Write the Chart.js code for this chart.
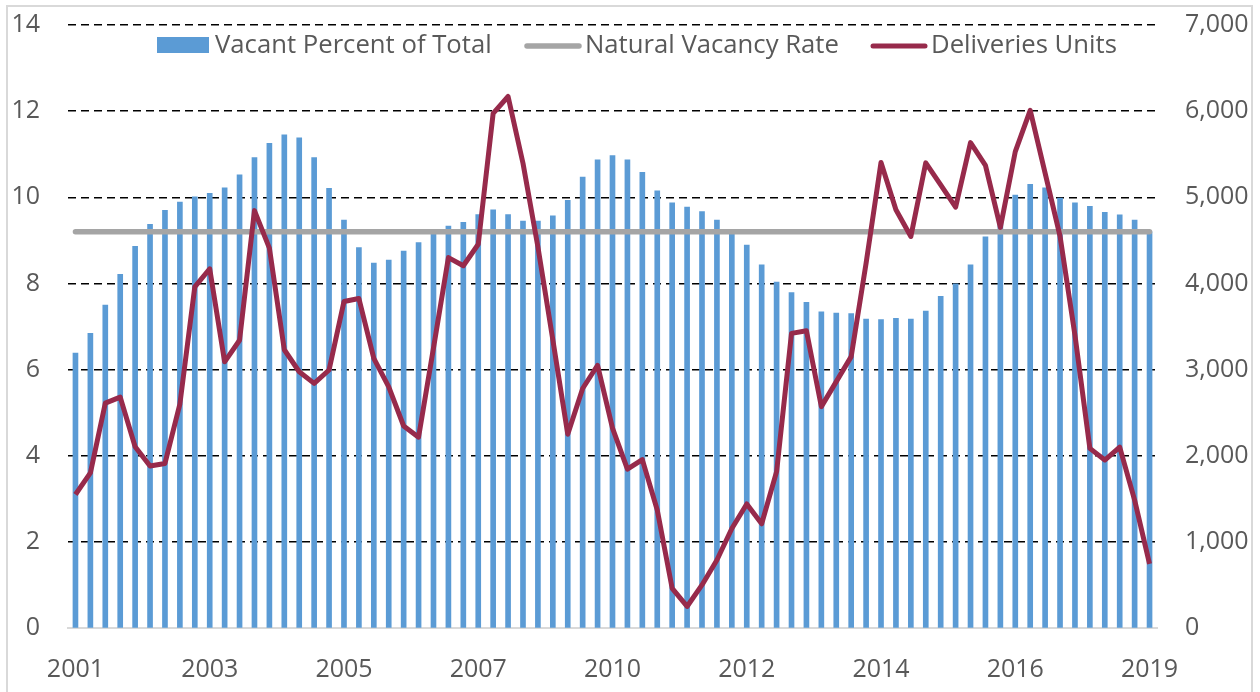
<!DOCTYPE html>
<html lang="en">
<head>
  <meta charset="UTF-8" />
  <title>Vacancy and Deliveries</title>
  <script src="https://cdn.jsdelivr.net/npm/chart.js"></script>
  <style>
    body {
      margin: 0;
      background: #ffffff;
      font-family: "Open Sans", Arial, sans-serif;
    }
    .frame {
      position: absolute;
      left: 6px;
      top: 5px;
      width: 1247px;
      height: 700px;
      border: 2px solid #d9d9d9;
      box-sizing: border-box;
    }
    .wrap {
      position: absolute;
      left: 0;
      top: 0;
      width: 1260px;
      height: 692px;
    }
  </style>
</head>
<body>
  <div class="frame"></div>
  <div class="wrap"><canvas id="chart" width="1260" height="692"></canvas></div>

  <script>
    // quarterly, 2001 Q1 .. 2019 Q1
    const categories = [];
    for (let y = 2001; y <= 2019; y++) {
      for (let q = 1; q <= 4; q++) {
        if (y === 2019 && q > 1) break;
        categories.push(y + ' Q' + q);
      }
    }

    // shown every 9th quarter
    const tickLabels = ['2001', '2003', '2005', '2007', '2010', '2012', '2014', '2016', '2019'];

    const vacantPct = [
      6.38, 6.84, 7.50, 8.21, 8.86, 9.37, 9.70, 9.89, 10.01, 10.09,
      10.22, 10.52, 10.92, 11.25, 11.45, 11.38, 10.92, 10.21, 9.47, 8.83,
      8.47, 8.54, 8.75, 8.95, 9.15, 9.33, 9.42, 9.60, 9.71, 9.60,
      9.45, 9.45, 9.57, 9.93, 10.47, 10.87, 10.97, 10.87, 10.58, 10.15,
      9.87, 9.77, 9.67, 9.47, 9.15, 8.89, 8.43, 8.03, 7.79, 7.56,
      7.34, 7.31, 7.30, 7.17, 7.16, 7.19, 7.17, 7.36, 7.70, 7.99,
      8.43, 9.08, 9.55, 10.05, 10.30, 10.22, 9.98, 9.87, 9.79, 9.65,
      9.59, 9.47, 9.20
    ];

    const deliveries = [
      1550, 1800, 2610, 2680, 2105, 1880, 1910, 2600, 3960, 4170,
      3090, 3340, 4845, 4410, 3230, 2975, 2840, 2995, 3790, 3825,
      3130, 2800, 2345, 2215, 3250, 4300, 4205, 4455, 5975, 6170,
      5395, 4425, 3345, 2250, 2780, 3050, 2320, 1845, 1955, 1370,
      460, 250, 500, 790, 1155, 1440, 1210, 1815, 3420, 3450,
      2570, 2860, 3150, 4235, 5405, 4855, 4545, 5400, 5145, 4885,
      5635, 5370, 4650, 5530, 6010, 5280, 4550, 3400, 2085, 1950,
      2100, 1485, 745
    ];

    const naturalRate = 9.2;

    const BLUE = '#5b9bd5';
    const GRAY = '#a5a5a5';
    const MAROON = '#972a4b';
    const TEXT = '#595959';
    const FONT = '"Open Sans"';

    const legendPlugin = {
      id: 'topLegend',
      afterDraw(chart) {
        const ctx = chart.ctx;
        const y = 46;
        ctx.save();
        // size the text so the first entry spans about 277px, as in the original
        ctx.font = '24px ' + FONT;
        const w = ctx.measureText('Vacant Percent of Total').width;
        const size = (24 * 277 / w).toFixed(1);
        ctx.font = size + 'px ' + FONT;
        ctx.textBaseline = 'middle';
        ctx.textAlign = 'left';

        ctx.fillStyle = BLUE;
        ctx.fillRect(157, 37, 52, 16);
        ctx.fillStyle = TEXT;
        ctx.fillText('Vacant Percent of Total', 215, y);

        ctx.lineCap = 'round';
        ctx.lineWidth = 5.5;
        ctx.strokeStyle = GRAY;
        ctx.beginPath();
        ctx.moveTo(527, y);
        ctx.lineTo(579, y);
        ctx.stroke();
        ctx.fillText('Natural Vacancy Rate', 585, y);

        ctx.lineWidth = 5;
        ctx.strokeStyle = MAROON;
        ctx.beginPath();
        ctx.moveTo(873, y);
        ctx.lineTo(925, y);
        ctx.stroke();
        ctx.fillText('Deliveries Units', 931, y);
        ctx.restore();
      }
    };

    const tickFont = { family: 'Open Sans', size: 25 };

    // fixed axis widths; drop the label overhang so the plot top sits at 25px
    const fitY = width => s => {
      s.width = width;
      s.paddingTop = 0;
      s.paddingBottom = 0;
    };

    const ctx = document.getElementById('chart').getContext('2d');
    new Chart(ctx, {
      data: {
        labels: categories,
        datasets: [
          {
            type: 'line',
            label: 'Deliveries Units',
            data: deliveries,
            yAxisID: 'yRight',
            borderColor: MAROON,
            borderWidth: 5,
            pointRadius: 0,
            tension: 0,
            borderJoinStyle: 'round',
            order: 0
          },
          {
            type: 'line',
            label: 'Natural Vacancy Rate',
            data: [
              { x: categories[0], y: naturalRate },
              { x: categories[categories.length - 1], y: naturalRate }
            ],
            yAxisID: 'y',
            borderColor: GRAY,
            borderWidth: 5.5,
            borderCapStyle: 'round',
            pointRadius: 0,
            order: 1
          },
          {
            type: 'bar',
            label: 'Vacant Percent of Total',
            data: vacantPct,
            yAxisID: 'y',
            backgroundColor: BLUE,
            barThickness: 5,
            order: 2
          }
        ]
      },
      options: {
        responsive: false,
        animation: false,
        layout: { padding: { top: 25, left: 0, right: 0, bottom: 0 } },
        plugins: {
          legend: { display: false },
          tooltip: { enabled: false }
        },
        scales: {
          x: {
            type: 'category',
            offset: true,
            grid: { display: false },
            border: { display: true, color: '#d9d9d9', width: 2 },
            ticks: {
              autoSkip: false,
              maxRotation: 0,
              padding: 19,
              color: TEXT,
              font: tickFont,
              callback: (val, i) => (i % 9 === 0 ? tickLabels[i / 9] : '')
            },
            afterFit: s => { s.height = 64; }
          },
          y: {
            position: 'left',
            min: 0,
            max: 14,
            ticks: {
              stepSize: 2,
              padding: 28,
              color: TEXT,
              font: tickFont
            },
            grid: {
              drawTicks: false,
              color: c => (c.tick.value === 0 ? 'rgba(0,0,0,0)' : '#000000'),
              lineWidth: 1.4
            },
            border: { display: false, dash: [8, 5] },
            afterFit: fitY(68)
          },
          yRight: {
            position: 'right',
            min: 0,
            max: 7000,
            ticks: {
              stepSize: 1000,
              padding: 28,
              color: TEXT,
              font: tickFont,
              callback: v => v.toLocaleString('en-US')
            },
            grid: { display: false, drawTicks: false },
            border: { display: false },
            afterFit: fitY(103)
          }
        }
      },
      plugins: [legendPlugin]
    });
  </script>
</body>
</html>
